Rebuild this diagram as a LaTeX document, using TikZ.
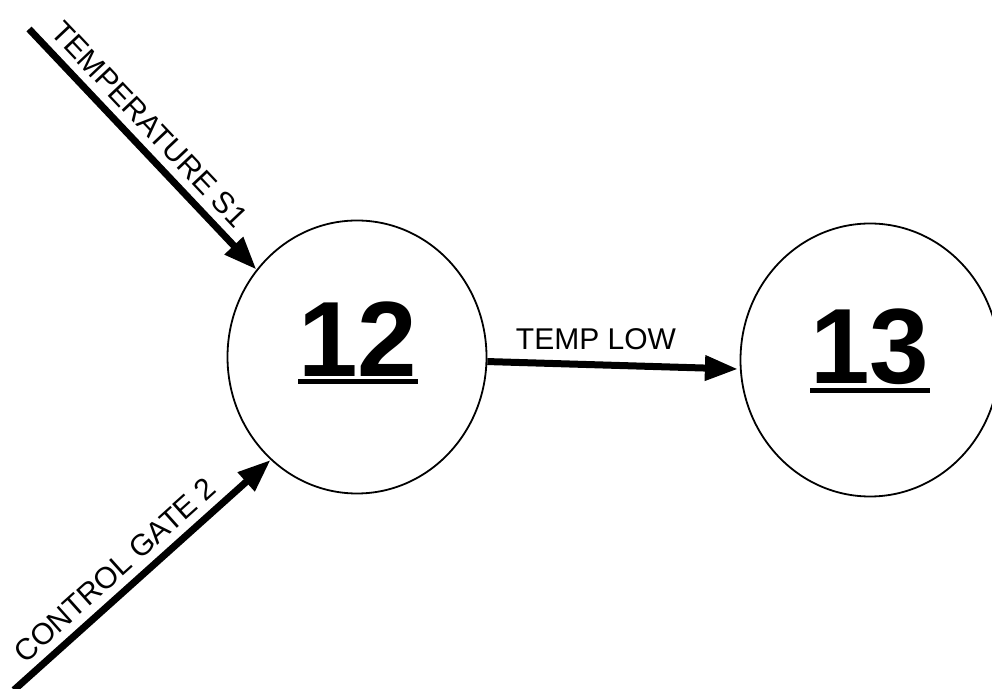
\documentclass[tikz,border=0pt]{standalone}
\usepackage{fontspec}
\setmainfont{Liberation Sans}
\usetikzlibrary{positioning,arrows.meta,shapes.geometric}

\begin{document}
\begin{tikzpicture}[x=1pt,y=1pt,
  state/.style={ellipse,draw,line width=1.8pt,minimum width=259pt,minimum height=273pt,inner sep=0},
  num/.style={font=\fontsize{107}{110}\selectfont\bfseries,inner xsep=0,inner ysep=5pt},
  flow/.style={line width=7pt,-{Triangle[length=33pt,width=24pt]}},
  lab/.style={font=\fontsize{30}{32}\selectfont,inner sep=0}]
\useasboundingbox (0,0) rectangle (992,688);
% --- states ---
\node[state] (n12) at (357,331) {};
\node[state] (n13) at (870,328) {};
\node[num] (t12) at ([xshift=1pt,yshift=18pt]n12.center) {12};
\node[num] (t13) at ([yshift=13pt]n13.center) {13};
\draw[line width=5pt] (t12.south west) -- (t12.south east);
\draw[line width=5pt] (t13.south west) -- (t13.south east);
% --- inputs ---
\coordinate (s1) at (29,659);
\coordinate (g2) at (14,-2);
\draw[flow] (s1) -- node[lab,sloped,above=8pt,pos=.46] {TEMPERATURE S1} (n12.139);
\draw[flow] (g2) -- node[lab,sloped,above=8pt,pos=.45] {CONTROL GATE 2} (n12.230);
% --- transition ---
\draw[flow,shorten >=2pt] (n12.358) -- node[lab,above=11pt,pos=.43] {TEMP LOW} (n13.184);
\end{tikzpicture}
\end{document}
